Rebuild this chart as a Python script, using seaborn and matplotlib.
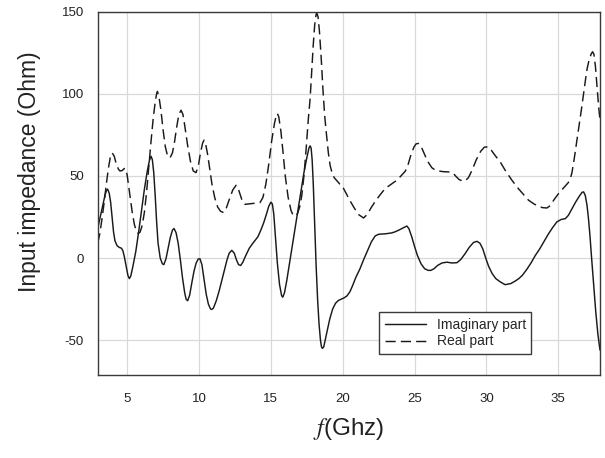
import matplotlib
matplotlib.use("Agg")
import matplotlib.pyplot as plt
import seaborn as sns
import pandas as pd
from matplotlib.lines import Line2D

# ---- data ----
imag_f = [2.95, 3.1, 3.3, 3.45, 3.55, 3.64, 3.75, 3.85, 3.95, 4.05, 4.15, 4.3, 4.45, 4.6, 4.7,
          4.8, 4.95, 5.05, 5.15, 5.25, 5.4, 5.6, 5.8, 6.0, 6.2, 6.4, 6.55, 6.66, 6.75, 6.85,
          6.95, 7.05, 7.15, 7.3, 7.45, 7.55, 7.7, 7.85, 8.0, 8.15, 8.26, 8.4, 8.55, 8.7, 8.85,
          9.0, 9.1, 9.21, 9.35, 9.5, 9.65, 9.8, 9.95, 10.07, 10.2, 10.35, 10.5, 10.65, 10.8,
          10.88, 11.0, 11.2, 11.4, 11.6, 11.8, 11.95, 12.1, 12.28, 12.45, 12.6, 12.75, 12.9,
          13.05, 13.25, 13.5, 13.7, 13.9, 14.1, 14.3, 14.5, 14.7, 14.85, 15.0, 15.1, 15.2,
          15.3, 15.45, 15.6, 15.75, 15.83, 15.95, 16.1, 16.3, 16.5, 16.7, 16.9, 17.1, 17.3,
          17.5, 17.65, 17.73, 17.8, 17.87, 17.95, 18.05, 18.15, 18.25, 18.35, 18.45, 18.52,
          18.59, 18.68, 18.8, 18.95, 19.1, 19.3, 19.5, 19.7, 19.9, 20.1, 20.3, 20.5, 20.7,
          20.9, 21.2, 21.5, 21.8, 22.0, 22.26, 22.5, 23.0, 23.4, 23.65, 23.9, 24.2, 24.46,
          24.6, 24.8, 25.0, 25.2, 25.45, 25.7, 25.95, 26.13, 26.35, 26.6, 26.9, 27.25, 27.6,
          27.95, 28.2, 28.5, 28.8, 29.1, 29.34, 29.55, 29.75, 29.95, 30.15, 30.4, 30.65,
          30.96, 31.3, 31.7, 32.0, 32.24, 32.5, 32.8, 33.1, 33.4, 33.7, 34.0, 34.3, 34.6,
          34.9, 35.2, 35.49, 35.7, 35.95, 36.2, 36.45, 36.65, 36.76, 36.88, 37.0, 37.1,
          37.2, 37.3, 37.45, 37.6, 37.75, 37.9]
imag_v = [18, 24, 32, 38, 41, 42, 39.5, 34, 25, 16, 10.5, 7.5, 6.5, 6, 4.5,
          1, -6, -10.5, -12.5, -11, -5, 4, 16, 29, 42, 53, 59.5, 62, 60, 52,
          38, 22, 9, 0, -3.5, -4, -0.5, 6, 12.5, 17, 18, 15.5, 9, -1, -12,
          -21, -25, -26, -22.5, -15, -8, -3, -0.5, -0.5, -4, -13, -22, -28, -31,
          -31.3, -30.5, -26, -20, -13, -6, -1, 3, 4.7, 3, -1, -4, -4.5,
          -2.5, 1.5, 6, 8.5, 10.8, 13, 17, 21.5, 27, 31.5, 34, 33, 27,
          15, -3, -16, -23, -23.8, -21, -14, -3, 8, 19, 30, 41, 52,
          61, 67, 68.3, 67, 60, 45, 20, -5, -25, -40, -50, -54,
          -55, -54, -49, -43, -37, -31, -27.5, -25.8, -25, -24.2, -23, -20.5, -16.5,
          -12, -6.5, 0, 6, 10, 13.5, 14.5, 14.8, 15.3, 16, 17, 18.3, 19.5,
          18, 13, 7, 1.5, -3.5, -6.5, -7.5, -7.5, -6.5, -4.5, -3, -2.5, -3,
          -2.8, -1, 2.5, 6.5, 9.5, 10.2, 9, 5.5, 0, -5, -9.5, -12.5,
          -14.5, -16.2, -15.5, -14, -12.6, -10.5, -7, -3, 1.6, 5.5, 10, 14.5, 18.5,
          22, 23.5, 24, 26, 30, 34, 37.5, 40, 40.3, 38, 32, 24,
          14, 2, -15, -32, -46, -56]

real_f = [2.95, 3.1, 3.25, 3.4, 3.55, 3.7, 3.82, 3.96, 4.1, 4.25, 4.4, 4.5, 4.65, 4.8, 4.9,
          5.0, 5.1, 5.2, 5.35, 5.5, 5.65, 5.77, 5.9, 6.05, 6.2, 6.35, 6.5, 6.65, 6.8, 6.95,
          7.05, 7.1, 7.2, 7.35, 7.5, 7.65, 7.8, 7.98, 8.15, 8.3, 8.45, 8.6, 8.75, 8.88, 9.0,
          9.2, 9.4, 9.6, 9.79, 9.95, 10.1, 10.25, 10.35, 10.45, 10.6, 10.75, 10.9, 11.1,
          11.3, 11.5, 11.7, 11.9, 12.1, 12.35, 12.58, 12.7, 12.85, 13.0, 13.2, 13.5, 13.8,
          14.1, 14.25, 14.45, 14.65, 14.85, 15.05, 15.25, 15.38, 15.45, 15.55, 15.7, 15.85,
          16.0, 16.2, 16.4, 16.55, 16.69, 16.85, 17.0, 17.15, 17.3, 17.45, 17.6, 17.73,
          17.85, 17.95, 18.05, 18.15, 18.2, 18.28, 18.38, 18.5, 18.62, 18.75, 18.86, 19.0,
          19.12, 19.24, 19.4, 19.6, 19.8, 19.94, 20.2, 20.5, 20.8, 21.1, 21.45, 21.7, 22.0,
          22.3, 22.6, 22.95, 23.3, 23.7, 24.0, 24.35, 24.55, 24.75, 24.95, 25.1, 25.27,
          25.45, 25.65, 25.9, 26.2, 26.45, 26.66, 27.0, 27.3, 27.48, 27.7, 27.9, 28.1, 28.3,
          28.52, 28.75, 29.0, 29.3, 29.6, 29.85, 30.1, 30.35, 30.6, 30.96, 31.3, 31.77,
          32.2, 32.6, 32.93, 33.3, 33.6, 33.9, 34.21, 34.45, 34.7, 35.02, 35.3, 35.5, 35.7,
          35.84, 35.95, 36.1, 36.3, 36.5, 36.65, 36.85, 37.0, 37.15, 37.3, 37.39, 37.48,
          37.58, 37.7, 37.8, 37.9]
real_v = [9, 15, 24, 34, 45, 55, 61, 64, 62, 57, 54, 53, 53.3, 54.5, 54.5,
          50.5, 44, 37, 28, 20.5, 16, 15, 15.8, 20, 28, 40, 55, 70, 84, 95,
          100, 101.5, 99, 90, 78, 68, 62.5, 61, 64, 71, 80, 87.5, 90, 87.5, 81,
          69, 59, 53, 52, 56, 64, 70, 71.8, 70, 63, 54, 45, 36.5,
          31, 28.5, 27.7, 30.5, 35.5, 41.5, 44.3, 43, 39, 35, 32.7, 33, 33.3,
          33.5, 33.8, 37, 45, 57, 71, 82, 87, 88, 86, 77, 64,
          50, 37, 29, 26, 25.6, 27, 31, 38, 50, 66, 84, 97,
          115, 130, 142, 148.5, 149, 147, 138, 122, 103, 86, 76, 64,
          56.5, 52.4, 49, 47, 45, 44.3, 40, 35, 30.5, 26.5, 24.4, 26.5, 31,
          35, 38.5, 42.3, 44.5, 47, 49.5, 52.9, 57, 63, 67.5, 69.5, 69.8,
          68, 64, 59, 55, 53.5, 53, 52.6, 52.5, 52.4, 51.5, 49.5, 47.8, 47,
          47, 49, 53.5, 60, 65, 67.5, 67.7, 65.5, 62.5, 58.5, 53.5, 47.4,
          42.5, 38.5, 35.2, 33, 31.6, 30.7, 30.5, 32, 35.5, 39.3, 42, 44, 46,
          48.4, 52, 60, 72, 84, 93, 106, 115, 121, 124.5, 125.6, 124,
          117, 104, 93, 84]

series_names = ["Imaginary part", "Real part"]
x_ticks = [5, 10, 15, 20, 25, 30, 35]
y_ticks = [-50, 0, 50, 100, 150]

df = pd.concat([
    pd.DataFrame({"f": imag_f, "Z": imag_v, "series": series_names[0]}),
    pd.DataFrame({"f": real_f, "Z": real_v, "series": series_names[1]}),
], ignore_index=True)

sns.set_style("whitegrid")
plt.rcParams["font.family"] = ["Liberation Sans", "DejaVu Sans"]
plt.rcParams["mathtext.fontset"] = "stix"
plt.rcParams["axes.unicode_minus"] = False

fig = plt.figure(figsize=(6.05, 4.58), dpi=100)
ax = fig.add_axes([0.1615, 0.1819, 0.8302, 0.7926])

dash_map = {series_names[0]: "", series_names[1]: (7, 3.5)}
sns.lineplot(data=df, x="f", y="Z", style="series", dashes=dash_map,
             color="#1a1a1a", linewidth=1.05, legend=False, sort=False,
             estimator=None, ax=ax)

ax.set_xlim(2.95, 37.9)
ax.set_ylim(-71, 150)
ax.set_xticks(x_ticks)
ax.set_yticks(y_ticks)
ax.grid(True, color="#d9d9d9", linewidth=0.9)
for s in ax.spines.values():
    s.set_visible(True)
    s.set_color("#3a3a3a")
    s.set_linewidth(1.0)
ax.tick_params(axis="both", which="major", direction="out", length=4, width=0.9,
               color="#3a3a3a", labelsize=9.5, labelcolor="#222222", pad=6)
ax.tick_params(axis="x", pad=9)

ax.set_ylabel("Input impedance (Ohm)", fontsize=16.5, color="#222222")
ax.yaxis.set_label_coords(-0.113, 0.56)
ax.set_xlabel(r"$f$(Ghz)", fontsize=17.5, color="#222222")
ax.xaxis.set_label_coords(0.5, -0.115)

handles = [Line2D([], [], color="#1a1a1a", lw=1.05, ls="-"),
           Line2D([], [], color="#1a1a1a", lw=1.05, dashes=(7, 3.5))]
leg = ax.legend(handles, series_names, loc="lower left",
                bbox_to_anchor=(0.56, 0.057, 0.303, 0.146), mode="expand",
                fontsize=10, frameon=True, fancybox=False, handlelength=3,
                borderaxespad=0, labelspacing=0.2, handletextpad=0.8)
leg.get_frame().set_edgecolor("#3a3a3a")
leg.get_frame().set_linewidth(1.0)
leg.get_frame().set_alpha(1)

fig.savefig("out.png", dpi=100)
